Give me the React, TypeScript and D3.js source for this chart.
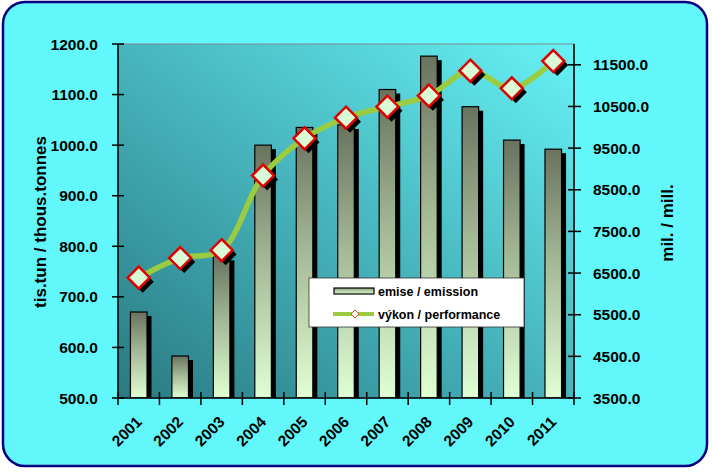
import React from 'react';
import * as d3 from 'd3';

const years = ['2001', '2002', '2003', '2004', '2005', '2006', '2007', '2008', '2009', '2010', '2011'];
const emission = [670, 583, 780, 1000, 1035, 1040, 1110, 1176, 1076, 1010, 992];
const performance = [6390, 6860, 7050, 8840, 9735, 10230, 10495, 10760, 11360, 10935, 11590];
const leftTicks = [500, 600, 700, 800, 900, 1000, 1100, 1200];
const rightTicks = [3500, 4500, 5500, 6500, 7500, 8500, 9500, 10500, 11500];
const leftTitle = 'tis.tun / thous.tonnes';
const rightTitle = 'mil. / mill.';
const legendLabels = ['emise / emission', 'výkon / performance'];

const W = 712;
const H = 473;
const L = 118, T = 44, R = 574, B = 398;
const FONT = '"Liberation Sans", Arial, sans-serif';

export default function App() {
  const x = d3.scaleBand<string>().domain(years).range([L, R]).paddingInner(0.6).paddingOuter(0.3);
  const yL = d3.scaleLinear().domain([500, 1200]).range([B, T]);
  const yR = d3.scaleLinear().domain([3500, 12000]).range([B, T]);
  const bw = x.bandwidth();
  const step = x.step();
  const cx = (d: string) => (x(d) as number) + bw / 2;
  const pts: [number, number][] = years.map((y, i) => [cx(y), yR(performance[i])]);
  const lineGen = d3.line().curve(d3.curveCatmullRom.alpha(0.5));
  const path = lineGen(pts) || '';
  const dsize = 11;
  const diamond = (px: number, py: number) =>
    `M${px},${py - dsize}L${px + dsize},${py}L${px},${py + dsize}L${px - dsize},${py}Z`;
  const boundaries = d3.range(years.length + 1).map((i) => L + i * step);

  return (
    <svg width={W} height={H} style={{ position: 'absolute', left: 0, top: 0 }} fontFamily={FONT}>
      <defs>
        <linearGradient id="barGrad" x1="0" y1="0" x2="0" y2="1">
          <stop offset="0" stopColor="#69735f" />
          <stop offset="0.45" stopColor="#a3b895" />
          <stop offset="1" stopColor="#e0ffd4" />
        </linearGradient>
        <linearGradient id="legGrad" x1="0" y1="0" x2="0" y2="1">
          <stop offset="0" stopColor="#8fa283" />
          <stop offset="1" stopColor="#dcfcd0" />
        </linearGradient>
        <linearGradient id="plotGrad" x1="0" y1="1" x2="1" y2="0">
          <stop offset="0" stopColor="#2a7a82" />
          <stop offset="0.5" stopColor="#47b5bd" />
          <stop offset="1" stopColor="#66f2f5" />
        </linearGradient>
        <clipPath id="plotClip">
          <rect x={L} y={T - 20} width={R - L + 20} height={B - T + 20} />
        </clipPath>
      </defs>

      <rect x={3} y={2} width={704} height={464} rx={22} ry={22} fill="#62f8fb" stroke="#000080" strokeWidth={2.5} />

      <rect x={L} y={T} width={R - L} height={B - T} fill="url(#plotGrad)" stroke="#7f8a8a" strokeWidth={1} />

      <g clipPath="url(#plotClip)">
        {years.map((y, i) => (
          <rect key={'s' + y} x={(x(y) as number) + 4.5} y={yL(emission[i]) + 4} width={bw} height={B - yL(emission[i])} fill="#000" />
        ))}
        {years.map((y, i) => (
          <rect key={'b' + y} x={x(y) as number} y={yL(emission[i])} width={bw} height={B - yL(emission[i])} fill="url(#barGrad)" stroke="#000" strokeWidth={1.2} />
        ))}
      </g>

      <path d={path} fill="none" stroke="#99cc40" strokeWidth={5.5} strokeLinejoin="round" />
      {pts.map(([px, py], i) => (
        <path key={'ds' + i} d={diamond(px + 4, py + 4)} fill="#000" />
      ))}
      {pts.map(([px, py], i) => (
        <path key={'d' + i} d={diamond(px, py)} fill="#d9fbd6" stroke="#e00000" strokeWidth={2.5} />
      ))}

      {/* axes */}
      <line x1={L} y1={T} x2={L} y2={B} stroke="#000" strokeWidth={1.5} />
      <line x1={R} y1={T} x2={R} y2={B} stroke="#000" strokeWidth={1.5} />
      <line x1={L} y1={B} x2={R} y2={B} stroke="#000" strokeWidth={1.5} />
      {leftTicks.map((t) => (
        <g key={'lt' + t}>
          <line x1={L - 6} x2={L + 6} y1={yL(t)} y2={yL(t)} stroke="#000" strokeWidth={1.5} />
          <text x={98} y={yL(t)} dy="0.36em" textAnchor="end" fontSize={15.5} fontWeight="bold" fill="#000">
            {t.toFixed(1)}
          </text>
        </g>
      ))}
      {rightTicks.map((t) => (
        <g key={'rt' + t}>
          <line x1={R - 6} x2={R + 7} y1={yR(t)} y2={yR(t)} stroke="#000" strokeWidth={1.5} />
          <text x={593} y={yR(t)} dy="0.36em" textAnchor="start" fontSize={15.5} fontWeight="bold" fill="#000">
            {t.toFixed(1)}
          </text>
        </g>
      ))}
      {boundaries.map((bx, i) => (
        <line key={'xt' + i} x1={bx} x2={bx} y1={B - 6} y2={B + 7} stroke="#000" strokeWidth={1.5} />
      ))}
      {years.map((y) => (
        <text key={'xl' + y} transform={`translate(${cx(y) + 4},${423}) rotate(-45)`} textAnchor="end" fontSize={15.5} fontWeight="bold" fill="#000">
          {y}
        </text>
      ))}

      <text transform={`translate(46,222) rotate(-90)`} textAnchor="middle" fontSize={17} fontWeight="bold" fill="#000">
        {leftTitle}
      </text>
      <text transform={`translate(673,223) rotate(-90)`} textAnchor="middle" fontSize={17} fontWeight="bold" fill="#000">
        {rightTitle}
      </text>

      {/* legend */}
      <rect x={309} y={278} width={215} height={49} fill="#fff" stroke="#333" strokeWidth={0.8} />
      <rect x={334} y={288} width={40} height={6} fill="url(#legGrad)" stroke="#000" strokeWidth={1.2} />
      <text x={378} y={295.5} fontSize={12.5} fontWeight="bold" fill="#000">{legendLabels[0]}</text>
      <line x1={333} x2={374} y1={314} y2={314} stroke="#99cc40" strokeWidth={4} />
      <path d={`M355,${314 - 4}L${359},314L355,${318}L${351},314Z`} fill="#fff" stroke="#e05020" strokeWidth={1} />
      <text x={378} y={319} fontSize={12.5} fontWeight="bold" fill="#000">{legendLabels[1]}</text>
    </svg>
  );
}
